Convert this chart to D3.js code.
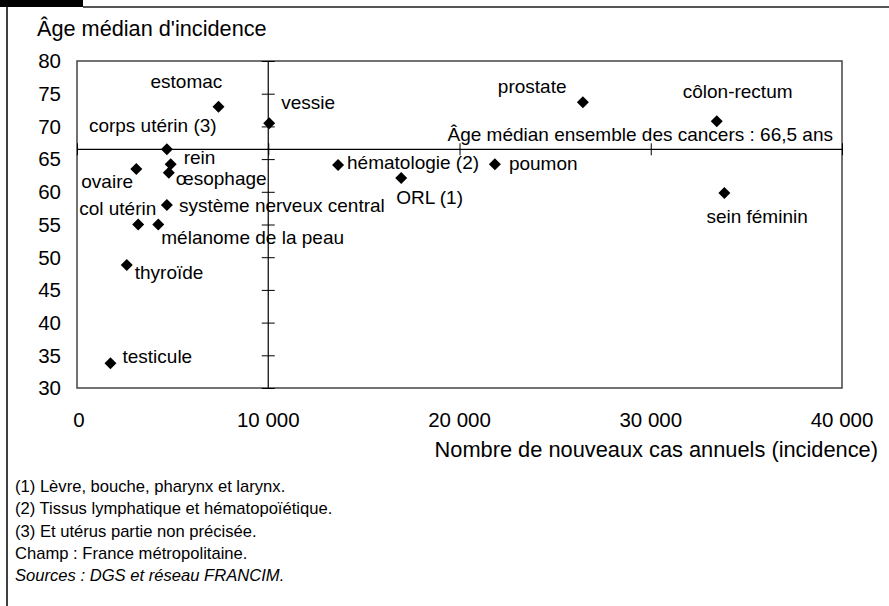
<!DOCTYPE html>
<html><head><meta charset="utf-8">
<script src="https://cdn.jsdelivr.net/npm/d3@7"></script>
<style>
html,body{margin:0;padding:0;background:#fff;}
svg text{font-family:"Liberation Sans",Arial,Helvetica,sans-serif;fill:#000;}
</style></head>
<body>
<svg id="chart" width="889" height="606"></svg>
<script>
// ---- data ----
const cancers = ["estomac","vessie","corps utérin (3)","rein","œsophage","ovaire",
  "système nerveux central","col utérin","mélanome de la peau","thyroïde","testicule",
  "hématologie (2)","ORL (1)","poumon","prostate","côlon-rectum","sein féminin"];
const incidence = [7400,10050,4700,4900,4800,3100,4700,3200,4250,2600,1750,13650,16950,21850,26450,33450,33850];
const ages = [73,70.5,66.5,64.2,62.9,63.5,58,55,55,48.8,33.8,64.1,62.1,64.2,73.7,70.8,59.8];
const xTicks = [0,10000,20000,30000,40000];
const yTicks = [30,35,40,45,50,55,60,65,70,75,80];
const medianAll = 66.5;
const yTitle = "Âge médian d'incidence";
const xTitle = "Nombre de nouveaux cas annuels (incidence)";
const refLabel = "Âge médian ensemble des cancers : 66,5 ans";
const notes = ["(1) Lèvre, bouche, pharynx et larynx.",
  "(2) Tissus lymphatique et hématopoïétique.",
  "(3) Et utérus partie non précisée.",
  "Champ : France métropolitaine.",
  "Sources : DGS et réseau FRANCIM."];

// ---- layout (label offsets from point, px) ----
const labelOffsets = [[-68,-19],[12,-14],[-78,-17],[13,0],[7,12],[-55,19],[12,7],[-59,-10],[3,19],[8,14],[12,0],[9,4],[-5,26],[14,6],[-85,-9],[-34,-23],[-18,30]];

const svg = d3.select("#chart");
const L = 77, R = 842, T = 61, B = 388;
const x = d3.scaleLinear().domain([0,40000]).range([L,R]);
const y = d3.scaleLinear().domain([30,80]).range([B,T]);
const fmt = v => d3.format(",")(v).replace(/,/g," ");

// frame
svg.append("rect").attr("x",0).attr("y",0).attr("width",83).attr("height",7).attr("fill","#000");
svg.append("line").attr("x1",83).attr("x2",889).attr("y1",7).attr("y2",7).attr("stroke","#555").attr("stroke-width",2);
svg.append("line").attr("x1",7).attr("x2",7).attr("y1",0).attr("y2",606).attr("stroke","#000").attr("stroke-width",1.5);

// plot border
svg.append("rect").attr("x",L).attr("y",T).attr("width",R-L).attr("height",B-T)
  .attr("fill","none").attr("stroke","#444").attr("stroke-width",1.5);

// y axis through x = 10000
const yAxis = d3.axisLeft(y).tickValues(yTicks).tickSizeInner(-13).tickSizeOuter(0).tickFormat("");
svg.append("g").attr("transform",`translate(${x(10000)-6.5},0)`).call(yAxis)
  .call(g=>g.select(".domain").remove())
  .call(g=>g.selectAll(".tick line").attr("stroke","#000"));
svg.append("line").attr("x1",x(10000)).attr("x2",x(10000)).attr("y1",T).attr("y2",B).attr("stroke","#000").attr("stroke-width",1.2);

// x axis through median age
const xAxis = d3.axisBottom(x).tickValues(xTicks).tickSizeInner(12).tickSizeOuter(0).tickFormat("");
svg.append("g").attr("transform",`translate(0,${y(medianAll)-6})`).call(xAxis)
  .call(g=>g.select(".domain").remove())
  .call(g=>g.selectAll(".tick line").attr("stroke","#000"));
svg.append("line").attr("x1",L).attr("x2",R).attr("y1",y(medianAll)).attr("y2",y(medianAll)).attr("stroke","#000").attr("stroke-width",1.2);

// y tick labels
svg.append("g").selectAll("text").data(yTicks).join("text")
  .attr("x",61).attr("y",d=>y(d)).attr("dy","0.36em").attr("text-anchor","end")
  .attr("font-size",20.5).text(d=>d);
// x tick labels
svg.append("g").selectAll("text").data(xTicks).join("text")
  .attr("x",d=>x(d)+(d===0?2:0)).attr("y",427).attr("text-anchor","middle")
  .attr("font-size",20.5).text(d=>fmt(d));

// titles
svg.append("text").attr("x",37).attr("y",36).attr("font-size",21.7).text(yTitle);
svg.append("text").attr("x",878).attr("y",457).attr("text-anchor","end").attr("font-size",21.8).text(xTitle);
svg.append("text").attr("x",833).attr("y",141).attr("text-anchor","end").attr("font-size",19).text(refLabel);

// points
const pts = cancers.map((c,i)=>({name:c,x:incidence[i],y:ages[i],off:labelOffsets[i]}));
const sym = d3.symbol().type(d3.symbolSquare).size(72);
svg.append("g").selectAll("path").data(pts).join("path")
  .attr("d",sym).attr("fill","#000")
  .attr("transform",d=>`translate(${x(d.x)},${y(d.y)}) rotate(45)`);
svg.append("g").selectAll("text").data(pts).join("text")
  .attr("x",d=>x(d.x)+d.off[0]).attr("y",d=>y(d.y)+d.off[1])
  .attr("font-size",19).text(d=>d.name);

// notes
svg.append("g").selectAll("text").data(notes).join("text")
  .attr("x",15).attr("y",(d,i)=>492+i*22.3).attr("font-size",16.6)
  .attr("font-style",(d,i)=>i===notes.length-1?"italic":"normal").text(d=>d);
</script>
</body></html>
